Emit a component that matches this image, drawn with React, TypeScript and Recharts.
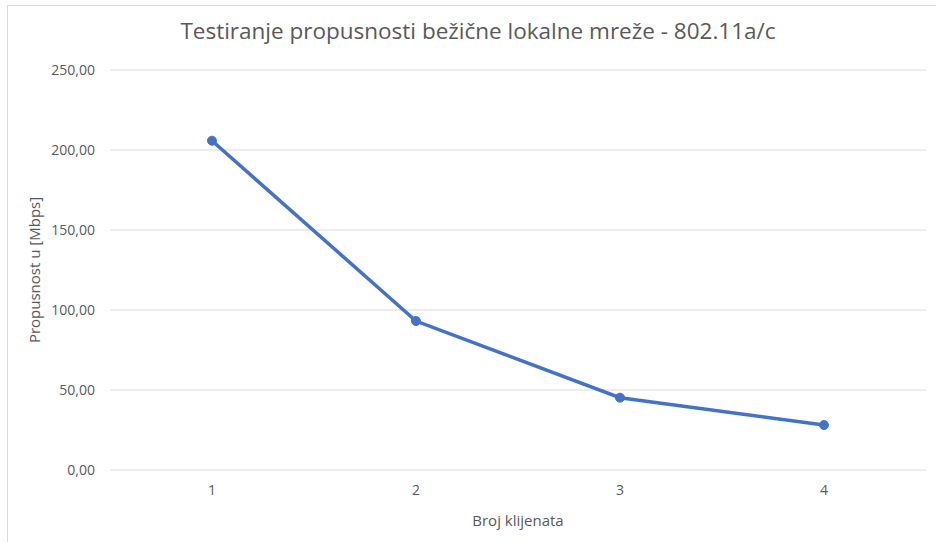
import React from 'react';
import { LineChart, Line, XAxis, YAxis, CartesianGrid } from 'recharts';

const clients = ['1', '2', '3', '4'];
const throughput = [205.8, 93.1, 45.2, 28.1];
const yTicks = [0, 50, 100, 150, 200, 250];

const data = clients.map((c, i) => ({ client: c, value: throughput[i] }));

const textColor = '#595959';
const font = '"Open Sans", sans-serif';

const fmt = (v: number) => v.toFixed(2).replace('.', ',');

const App: React.FC = () => {
    return (
        <div style={{ position: 'absolute', left: 0, top: 0, width: 936, height: 542, background: '#fff', fontFamily: font }}>
            <div style={{ position: 'absolute', left: 7, top: 5, right: 0, bottom: 0, borderLeft: '1px solid #d9d9d9', borderTop: '1px solid #d9d9d9' }} />
            <div style={{ position: 'absolute', left: 0, top: 16, width: 956, textAlign: 'center', fontSize: 22.5, lineHeight: '30px', color: textColor }}>
                Testiranje propusnosti bežične lokalne mreže - 802.11a/c
            </div>
            <div style={{ position: 'absolute', left: 0, top: 0 }}>
                <LineChart width={936} height={542} data={data} margin={{ top: 70, right: 10, left: 0, bottom: 0 }}>
                    <CartesianGrid vertical={false} stroke="#d9d9d9" />
                    <XAxis
                        dataKey="client"
                        axisLine={false}
                        tickLine={false}
                        height={72}
                        tickMargin={9}
                        padding={{ left: 102, right: 102 }}
                        tick={{ fill: textColor, fontSize: 14, fontFamily: font }}
                        label={{ value: 'Broj klijenata', position: 'insideBottom', offset: 16, fill: textColor, fontSize: 15, fontFamily: font }}
                    />
                    <YAxis
                        domain={[0, 250]}
                        ticks={yTicks}
                        axisLine={false}
                        tickLine={false}
                        width={110}
                        tickMargin={9}
                        tickFormatter={fmt}
                        tick={{ fill: textColor, fontSize: 14, fontFamily: font }}
                        label={{ value: 'Propusnost u [Mbps]', angle: -90, position: 'insideLeft', offset: 35, fill: textColor, fontSize: 15, fontFamily: font, style: { textAnchor: 'middle' } }}
                    />
                    <Line
                        type="linear"
                        dataKey="value"
                        stroke="#4472C4"
                        strokeWidth={3.5}
                        dot={{ r: 4.5, fill: '#4472C4', stroke: '#4472C4', strokeWidth: 1 }}
                        isAnimationActive={false}
                    />
                </LineChart>
            </div>
        </div>
    );
};

export default App;
